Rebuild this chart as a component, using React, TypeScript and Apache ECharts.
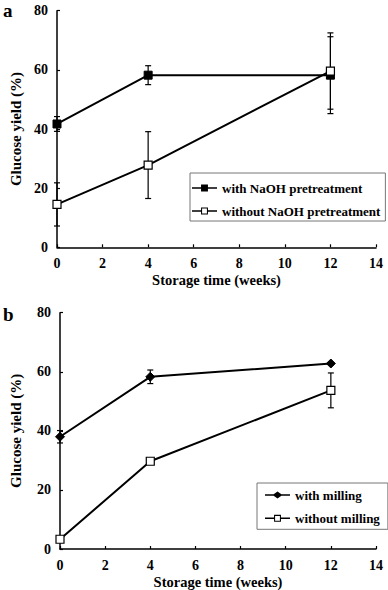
import React, { useEffect, useRef } from "react";
import * as echarts from "echarts";

const weeks = [0, 4, 12];
const xTicks = [0, 2, 4, 6, 8, 10, 12, 14];
const yTicks = [0, 20, 40, 60, 80];

const withNaOH = [41.7, 58.2, 58.2];
const withNaOHErr = [2.5, 3.2, 13];
const withoutNaOH = [14.5, 27.8, 59.6];
const withoutNaOHErr = [7.3, 11.3, 12.9];

const withMilling = [38.0, 58.3, 62.8];
const withMillingErr = [2.1, 2.3, 0.4];
const withoutMilling = [3.3, 29.7, 53.7];
const withoutMillingErr = [0.4, 0.6, 5.9];

const FONT = '"Liberation Serif", "Times New Roman", serif';

const ICON_FILLED_SQUARE = "path://M0,3.2H10.5V0H18.5V3.2H29V4.8H18.5V8H10.5V4.8H0Z";
const ICON_HOLLOW_SQUARE =
  "path://M0,3.2H10.5V0H18.5V3.2H29V4.8H18.5V8H10.5V4.8H0Z M11.7,1.2V6.8H17.3V1.2Z";
const ICON_DIAMOND = "path://M0,3.2H10L14.5,0L19,3.2H29V4.8H19L14.5,8L10,4.8H0Z";

function pairs(ys: number[]) {
  return weeks.map((w, i) => [w, ys[i]]);
}
function errs(ys: number[], es: number[]) {
  return weeks.map((w, i) => [w, ys[i] - es[i], ys[i] + es[i]]);
}

function errorSeries(name: string, ys: number[], es: number[], idx: number) {
  return {
    type: "custom",
    name,
    xAxisIndex: idx,
    yAxisIndex: idx,
    z: 1,
    silent: true,
    renderItem: (params: any, api: any) => {
      const x = api.value(0);
      const lo = api.coord([x, api.value(1)]);
      const hi = api.coord([x, api.value(2)]);
      const hw = 3;
      const style = { stroke: "#000", lineWidth: 1.2 };
      return {
        type: "group",
        children: [
          { type: "line", shape: { x1: lo[0], y1: lo[1], x2: hi[0], y2: hi[1] }, style },
          { type: "line", shape: { x1: lo[0] - hw, y1: lo[1], x2: lo[0] + hw, y2: lo[1] }, style },
          { type: "line", shape: { x1: hi[0] - hw, y1: hi[1], x2: hi[0] + hw, y2: hi[1] }, style },
        ],
      };
    },
    data: errs(ys, es),
  };
}

function xAxis(idx: number) {
  return {
    type: "value",
    gridIndex: idx,
    min: xTicks[0],
    max: xTicks[xTicks.length - 1],
    interval: 2,
    name: "Storage time (weeks)",
    nameLocation: "middle",
    nameGap: 25,
    nameTextStyle: { fontFamily: FONT, fontWeight: "bold", fontSize: 14.5, color: "#000" },
    axisLine: { lineStyle: { color: "#000", width: 1.5 } },
    axisTick: { inside: true, length: 3, lineStyle: { color: "#000", width: 1.2 } },
    axisLabel: { fontFamily: FONT, fontWeight: "bold", fontSize: 14, color: "#000", margin: 9 },
    splitLine: { show: false },
  };
}

function yAxis(idx: number, gap: number) {
  return {
    type: "value",
    gridIndex: idx,
    min: yTicks[0],
    max: yTicks[yTicks.length - 1],
    interval: 20,
    name: "Glucose yield (%)",
    nameLocation: "middle",
    nameGap: gap,
    nameTextStyle: { fontFamily: FONT, fontWeight: "bold", fontSize: 15, color: "#000" },
    axisLine: { show: true, lineStyle: { color: "#000", width: 1.5 } },
    axisTick: { show: true, inside: true, length: 3, lineStyle: { color: "#000", width: 1.2 } },
    axisLabel: { fontFamily: FONT, fontWeight: "bold", fontSize: 14, color: "#000", margin: 9 },
    splitLine: { show: false },
  };
}

function lineSeries(name: string, ys: number[], idx: number, symbol: string, filled: boolean, size: number) {
  return {
    type: "line",
    name,
    xAxisIndex: idx,
    yAxisIndex: idx,
    z: 3,
    data: pairs(ys),
    symbol,
    symbolSize: size,
    showAllSymbol: true,
    lineStyle: { color: "#000", width: 2 },
    itemStyle: filled
      ? { color: "#000", borderColor: "#000", borderWidth: 1 }
      : { color: "#fff", borderColor: "#000", borderWidth: 1.2 },
  };
}

const legendText = { fontFamily: FONT, fontWeight: "bold", fontSize: 13, color: "#000", lineHeight: 16 };
const legendItemStyle = { color: "#000", borderWidth: 0 };

export default function App() {
  const ref = useRef<HTMLDivElement>(null);
  useEffect(() => {
    if (!ref.current) return;
    const chart = echarts.init(ref.current, undefined, { renderer: "svg" });
    chart.setOption({
      animation: false,
      backgroundColor: "#fff",
      title: [
        { text: "a", left: 3, top: 1, padding: 0, textStyle: { fontFamily: FONT, fontWeight: "bold", fontSize: 19, color: "#000" } },
        { text: "b", left: 3, top: 305, padding: 0, textStyle: { fontFamily: FONT, fontWeight: "bold", fontSize: 19, color: "#000" } },
      ],
      grid: [
        { left: 49, top: 10.7, width: 327, height: 236.6 },
        { left: 52, top: 312.7, width: 324, height: 238 },
      ],
      xAxis: [xAxis(0), xAxis(1)],
      yAxis: [yAxis(0, 34), yAxis(1, 37)],
      legend: [
        {
          data: [
            { name: "with NaOH pretreatment", icon: ICON_FILLED_SQUARE, itemStyle: legendItemStyle },
            { name: "without NaOH pretreatment", icon: ICON_HOLLOW_SQUARE, itemStyle: legendItemStyle },
          ],
          orient: "vertical",
          left: 190,
          top: 173,
          padding: [7, 5, 2, 2],
          itemGap: 7,
          itemWidth: 25,
          itemHeight: 7,
          borderColor: "#777",
          borderWidth: 1,
          textStyle: legendText,
        },
        {
          data: [
            { name: "with milling", icon: ICON_DIAMOND, itemStyle: legendItemStyle },
            { name: "without milling", icon: ICON_HOLLOW_SQUARE, itemStyle: legendItemStyle },
          ],
          orient: "vertical",
          left: 257,
          top: 483,
          padding: [4, 8, 3, 8],
          itemGap: 7.3,
          itemWidth: 25,
          itemHeight: 7,
          borderColor: "#777",
          borderWidth: 1,
          textStyle: legendText,
        },
      ],
      series: [
        errorSeries("errA1", withNaOH, withNaOHErr, 0),
        errorSeries("errA2", withoutNaOH, withoutNaOHErr, 0),
        errorSeries("errB1", withMilling, withMillingErr, 1),
        errorSeries("errB2", withoutMilling, withoutMillingErr, 1),
        lineSeries("with NaOH pretreatment", withNaOH, 0, "rect", true, 8),
        lineSeries("without NaOH pretreatment", withoutNaOH, 0, "rect", false, 8),
        lineSeries("with milling", withMilling, 1, "diamond", true, 9),
        lineSeries("without milling", withoutMilling, 1, "rect", false, 8),
      ],
    });
    return () => chart.dispose();
  }, []);
  return (
    <div
      ref={ref}
      style={{ position: "absolute", left: 0, top: 0, width: 388, height: 590, background: "#fff" }}
    />
  );
}
